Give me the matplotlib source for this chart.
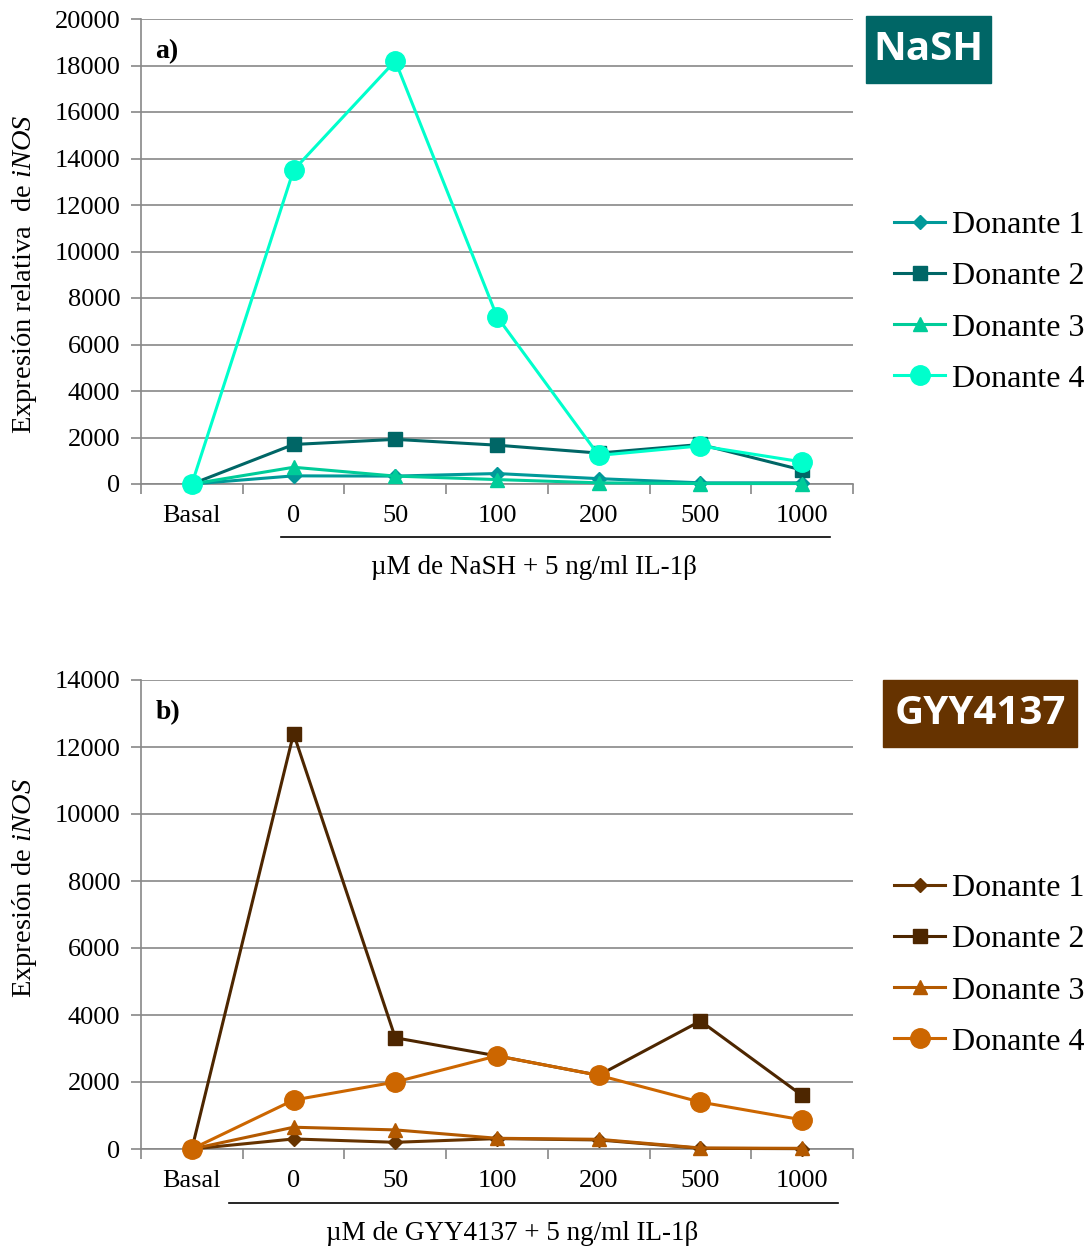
import matplotlib
matplotlib.use("Agg")
import matplotlib.pyplot as plt
from matplotlib.patches import Rectangle

plt.rcParams['font.family'] = ['Liberation Serif', 'DejaVu Serif']
plt.rcParams['mathtext.fontset'] = 'custom'
plt.rcParams['mathtext.rm'] = 'Liberation Serif'
plt.rcParams['mathtext.it'] = 'Liberation Serif:italic'

categories = ['Basal', '0', '50', '100', '200', '500', '1000']
donors = ['Donante 1', 'Donante 2', 'Donante 3', 'Donante 4']

# NaSH
nash_d1 = [0, 350, 340, 450, 230, 50, 50]
nash_d2 = [0, 1700, 1920, 1670, 1330, 1700, 600]
nash_d3 = [0, 720, 340, 190, 50, 20, 20]
nash_d4 = [0, 13500, 18200, 7200, 1230, 1640, 950]

# GYY4137
gyy_d1 = [0, 300, 200, 310, 270, 20, 10]
gyy_d2 = [0, 12400, 3320, 2780, 2200, 3820, 1600]
gyy_d3 = [0, 650, 570, 320, 290, 30, 20]
gyy_d4 = [0, 1460, 2000, 2780, 2200, 1400, 870]

nash_colors = ['#009999', '#006666', '#00CC99', '#00FFCC']
gyy_colors = ['#663300', '#4D2600', '#B35900', '#CC6600']
markers = ['D', 's', '^', 'o']
msizes = [7.5, 10, 10, 14]

W, H = 1091, 1249
fig = plt.figure(figsize=(W / 100, H / 100), dpi=100)

def fx(px):
    return px / W

def fy(py):
    return 1 - py / H


def panel(rect, series, colors, ymax, ystep, ylabel, ylab_y, xlabel, tag, box,
          boxtext, boxcolor, uline, leg_top):
    ax = fig.add_axes(rect)
    x = list(range(len(categories)))
    handles = []
    for s, c, mk, ms in zip(series, colors, markers, msizes):
        h, = ax.plot(x, s, color=c, marker=mk, markersize=ms, lw=2.2,
                     markeredgecolor=c, markerfacecolor=c, clip_on=False, zorder=3)
        handles.append(h)
    ax.set_xlim(-0.5, len(categories) - 0.5)
    ax.set_ylim(0, ymax)
    ax.set_yticks(range(0, ymax + 1, ystep))
    ax.set_xticks(x)
    ax.set_xticklabels(categories)
    ax.set_xticks([i - 0.5 for i in range(len(categories) + 1)], minor=True)
    ax.tick_params(axis='x', which='major', length=0, labelsize=19, pad=15)
    ax.tick_params(axis='x', which='minor', length=7, width=1.2, color='#888888')
    ax.tick_params(axis='y', length=7, width=1.2, color='#888888', labelsize=19,
                   pad=8)
    ax.grid(axis='y', color='#888888', lw=1.2)
    ax.set_axisbelow(True)
    for sp in ['top', 'right']:
        ax.spines[sp].set_visible(False)
    for sp in ['left', 'bottom']:
        ax.spines[sp].set_color('#888888')
        ax.spines[sp].set_linewidth(1.2)
    fig.text(fx(25), fy(ylab_y), ylabel, rotation=90, fontsize=20.5,
             ha='center', va='center')
    ax.text(0.02, 0.93, tag, transform=ax.transAxes, fontsize=20,
            fontweight='bold', va='center')
    # bracket line under the concentration labels
    ax.plot(uline, [-0.115, -0.115], color='black', lw=1.2,
            transform=ax.transAxes, clip_on=False)
    ax.text(sum(uline) / 2 - 0.03, -0.18, xlabel, transform=ax.transAxes,
            fontsize=19.5, ha='center', va='center')
    # coloured compound label
    x0, y0, x1, y1 = box
    fig.patches.append(Rectangle((fx(x0), fy(y1)), fx(x1 - x0), fy(y0) - fy(y1),
                                 transform=fig.transFigure, color=boxcolor))
    fig.text(fx((x0 + x1) / 2), fy((y0 + y1) / 2), boxtext, color='white',
             fontsize=29, fontweight='bold', family='Open Sans',
             ha='center', va='center')
    fig.legend(handles, donors, loc='upper left',
               bbox_to_anchor=(fx(894), fy(leg_top)), frameon=False,
               fontsize=23, handlelength=1.6, handletextpad=0.2,
               labelspacing=0.68, borderaxespad=0, borderpad=0)
    return ax


panel([fx(141), fy(484), fx(853 - 141), fy(19) - fy(484)],
      [nash_d1, nash_d2, nash_d3, nash_d4], nash_colors, 20000, 2000,
      r'Expresión relativa  de $\mathit{iNOS}$', 274,
      'µM de NaSH + 5 ng/ml IL-1β', 'a)', (866, 16, 991, 83), 'NaSH',
      '#006666', [0.1966, 0.9677], 211)

panel([fx(141), fy(1149), fx(853 - 141), fy(680) - fy(1149)],
      [gyy_d1, gyy_d2, gyy_d3, gyy_d4], gyy_colors, 14000, 2000,
      r'Expresión de $\mathit{iNOS}$', 888,
      'µM de GYY4137 + 5 ng/ml IL-1β', 'b)', (883, 680, 1077, 747), 'GYY4137',
      '#663300', [0.1236, 0.979], 874)

fig.savefig('out.png', dpi=100)
